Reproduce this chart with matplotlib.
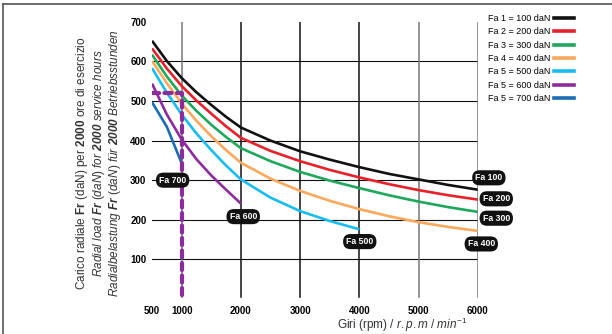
import matplotlib
matplotlib.use('Agg')
import matplotlib.pyplot as plt
from matplotlib.lines import Line2D

plt.rcParams['font.family'] = 'Liberation Sans'
plt.rcParams['mathtext.fontset'] = 'custom'
plt.rcParams['mathtext.rm'] = 'Liberation Sans'
plt.rcParams['mathtext.it'] = 'Liberation Sans:italic'
plt.rcParams['mathtext.bf'] = 'Liberation Sans:bold'
if 'mathtext.bfit' in plt.rcParams:
    plt.rcParams['mathtext.bfit'] = 'Liberation Sans:italic:bold'
    BFIT = 'mathbfit'
else:
    BFIT = 'mathbf'

# data
rpm = [500, 750, 1000, 1250, 1500, 1750, 2000, 2500, 3000, 3500, 4000, 4500, 5000, 5500, 6000]
fa100 = [652, 601, 558, 522, 490, 460, 433, 400, 373, 352, 333, 316, 302, 288, 276]
fa200 = [633, 582, 538, 501, 468, 436, 407, 374, 348, 326, 307, 290, 275, 262, 251]
fa300 = [617, 562, 514, 475, 440, 409, 381, 348, 321, 299, 280, 262, 246, 232, 220]
fa400 = [601, 545, 494, 450, 411, 376, 344, 304, 273, 248, 227, 209, 194, 182, 172]
rpm500 = [500, 750, 1000, 1250, 1500, 1750, 2000, 2500, 3000, 3500, 4000]
fa500 = [583, 521, 466, 418, 376, 337, 302, 256, 222, 197, 176]
rpm600 = [500, 750, 1000, 1250, 1500, 1750, 2000]
fa600 = [544, 466, 403, 353, 312, 276, 241]
rpm700 = [500, 750, 875, 1000]
fa700 = [497, 435, 389, 343]

series = [
    (rpm, fa100, '#111111', 'Fa 1 = 100 daN', 'Fa 100', (6188, 306)),
    (rpm, fa200, '#e8202a', 'Fa 2 = 200 daN', 'Fa 200', (6313, 253)),
    (rpm, fa300, '#1ea85c', 'Fa 3 = 300 daN', 'Fa 300', (6313, 204)),
    (rpm, fa400, '#f9a85c', 'Fa 4 = 400 daN', 'Fa 400', (6060, 139)),
    (rpm500, fa500, '#16bdf0', 'Fa 5 = 500 daN', 'Fa 500', (4008, 145)),
    (rpm600, fa600, '#8c2c9c', 'Fa 5 = 600 daN', 'Fa 600', (2040, 208)),
    (rpm700, fa700, '#1a6db5', 'Fa 5 = 700 daN', 'Fa 700', (848, 300)),
]

# example reading: 1000 rpm -> 520 daN
example_rpm = [500, 1000, 1000]
example_load = [520, 520, 0]

xticks = [500, 1000, 2000, 3000, 4000, 5000, 6000]
yticks = [100, 200, 300, 400, 500, 600, 700]
hgrid = [100, 200, 300, 400, 500, 600]
vgrid = [1000, 2000, 3000, 4000, 5000, 6000]
vgrid_colors = ['#777777', '#111111', '#111111', '#111111', '#777777', '#777777']


def mt(parts):
    out = ''
    for txt, style in parts:
        out += '\\' + style + '{' + txt.replace(' ', '\\ ') + '}'
    return '$' + out + '$'


fig = plt.figure(figsize=(6.12, 3.34), dpi=100)
ax = fig.add_axes([0.2484, 0.1048, 0.5322, 0.830])

for y in hgrid:
    ax.plot([500, 6000], [y, y], color='#111111', lw=0.8, zorder=1)
for x, c in zip(vgrid, vgrid_colors):
    ax.plot([x, x], [5, 700], color=c, lw=1.1, zorder=1)

handles = []
for xs, ys, color, lab, tag, pos in series:
    ax.plot(xs, ys, color=color, lw=1.9, solid_capstyle='butt',
            solid_joinstyle='round', zorder=3)
    handles.append(Line2D([], [], color=color, lw=2.6))
    ax.text(pos[0], pos[1], tag, color='white', fontsize=6.3, fontweight='bold',
            ha='center', va='center', clip_on=False, zorder=5,
            bbox=dict(boxstyle='round,pad=0.35,rounding_size=0.85', fc='#111111', ec='none'))

ax.plot(example_rpm, example_load, color='#8c2c9c', lw=3.0, dashes=(1.7, 1.3),
        dash_capstyle='round', zorder=4)

ax.set_xlim(500, 6000)
ax.set_ylim(0, 700)
ax.set_xticks(xticks)
ax.set_yticks(yticks)
ax.tick_params(length=0, labelsize=7, pad=4)
ax.tick_params(axis='x', pad=5)
for lbl in ax.get_xticklabels() + ax.get_yticklabels():
    lbl.set_fontweight('bold')
for s in ax.spines.values():
    s.set_visible(False)

fig.legend(handles, [s[3] for s in series], loc='upper left',
           bbox_to_anchor=(0.797, 0.958), frameon=False, markerfirst=False,
           fontsize=6.5, handlelength=2.2, handletextpad=0.4, labelspacing=0.48,
           borderaxespad=0, borderpad=0)

# y axis title, three languages
ylines = [
    ([('Carico radiale ', 'mathrm'), ('Fr', 'mathbf'), (' (daN) per ', 'mathrm'),
      ('2000', 'mathbf'), (' ore di esercizio', 'mathrm')], 82),
    ([('Radial load ', 'mathit'), ('Fr', BFIT), (' (daN) for ', 'mathit'),
      ('2000', BFIT), (' service hours', 'mathit')], 99),
    ([('Radialbelastung ', 'mathit'), ('Fr', BFIT), (' (daN) für ', 'mathit'),
      ('2000', BFIT), (' Betriebsstunden', 'mathit')], 115),
]
for parts, px in ylines:
    fig.text(px / 612, 0.512, mt(parts), rotation=90, fontsize=8.5,
             ha='center', va='center', color='#333333')

xlab = '$\\mathrm{Giri\\ (rpm)\\ /\\ }\\mathit{r.p.m\\ /\\ min}^{\\mathit{-1}}$'
fig.text(402 / 612, 1 - 325 / 334, xlab, fontsize=8.5, ha='center', va='center',
         color='#333333')

# frame lines of the original page
fig.add_artist(Line2D([3.5 / 612, 1], [1 - 4 / 334, 1 - 4 / 334], color='#555555', lw=1.2))
fig.add_artist(Line2D([3.5 / 612, 3.5 / 612], [0, 1 - 4 / 334], color='#555555', lw=1.2))

fig.savefig('out.png', dpi=100)
